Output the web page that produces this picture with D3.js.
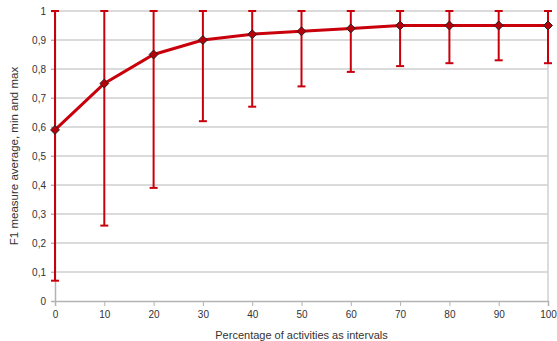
<!DOCTYPE html>
<html>
<head>
<meta charset="utf-8">
<script src="https://cdn.jsdelivr.net/npm/d3@7"></script>
<style>
  body { margin: 0; background: #fff; }
  text { font-family: "Liberation Sans", Arial, sans-serif; fill: #333; }
</style>
</head>
<body>
<div id="chart"></div>
<script>
// chart values
const percentages = [0, 10, 20, 30, 40, 50, 60, 70, 80, 90, 100];
const f1Average = [0.59, 0.75, 0.85, 0.90, 0.92, 0.93, 0.94, 0.95, 0.95, 0.95, 0.95];
const f1Min = [0.07, 0.26, 0.39, 0.62, 0.67, 0.74, 0.79, 0.81, 0.82, 0.83, 0.82];
const f1Max = [1, 1, 1, 1, 1, 1, 1, 1, 1, 1, 1];
const yTicks = [0, 0.1, 0.2, 0.3, 0.4, 0.5, 0.6, 0.7, 0.8, 0.9, 1];

const width = 557, height = 341;
const margin = { top: 11, right: 9, bottom: 40, left: 55 };
const w = width - margin.left - margin.right;
const h = height - margin.top - margin.bottom;

const svg = d3.select('#chart').append('svg')
  .attr('width', width)
  .attr('height', height);

const g = svg.append('g')
  .attr('transform', `translate(${margin.left},${margin.top})`);

const x = d3.scaleLinear().domain([0, 100]).range([0, w]);
const y = d3.scaleLinear().domain([0, 1]).range([h, 0]);

const fmt = v => d3.format('.1~f')(v).replace('.', ',');

// grid
g.append('g')
  .selectAll('line')
  .data(yTicks.filter(d => d > 0))
  .enter().append('line')
  .attr('x1', -4).attr('x2', w)
  .attr('y1', d => y(d)).attr('y2', d => y(d))
  .style('stroke', '#cfcfcf')
  .style('stroke-width', 1.5);

// right border
g.append('line')
  .attr('x1', w).attr('x2', w)
  .attr('y1', 0).attr('y2', h)
  .style('stroke', '#cfcfcf')
  .style('stroke-width', 1.5);

// y axis
const yAxis = g.append('g')
  .call(d3.axisLeft(y).tickValues(yTicks).tickFormat(fmt).tickSize(4).tickPadding(5));
yAxis.select('.domain').style('stroke', '#b3b3b3').style('stroke-width', 1.5);
yAxis.selectAll('.tick line').style('stroke', '#b3b3b3');
yAxis.selectAll('text').style('font-size', '10px').style('fill', '#333')
  .style('font-family', '"Liberation Sans", Arial, sans-serif');

// x axis
const xAxis = g.append('g')
  .attr('transform', `translate(0,${h})`)
  .call(d3.axisBottom(x).tickValues(percentages).tickSize(5).tickPadding(5));
xAxis.select('.domain').style('stroke', '#b3b3b3').style('stroke-width', 1.5);
xAxis.selectAll('.tick line').style('stroke', '#b3b3b3');
xAxis.selectAll('text').style('font-size', '10px').style('fill', '#333')
  .style('font-family', '"Liberation Sans", Arial, sans-serif');

// error bars
const data = percentages.map((p, i) => ({ p, avg: f1Average[i], min: f1Min[i], max: f1Max[i] }));
const red = '#c9000c';
const bars = g.append('g').selectAll('g').data(data).enter().append('g');
bars.append('line')
  .attr('x1', d => x(d.p)).attr('x2', d => x(d.p))
  .attr('y1', d => y(d.min)).attr('y2', d => y(d.max))
  .style('stroke', red).style('stroke-width', 2);
bars.append('line')
  .attr('x1', d => x(d.p) - 4).attr('x2', d => x(d.p) + 4)
  .attr('y1', d => y(d.min)).attr('y2', d => y(d.min))
  .style('stroke', red).style('stroke-width', 2);
bars.append('line')
  .attr('x1', d => x(d.p) - 4).attr('x2', d => x(d.p) + 4)
  .attr('y1', d => y(d.max)).attr('y2', d => y(d.max))
  .style('stroke', red).style('stroke-width', 2);

// average line
const line = d3.line().x(d => x(d.p)).y(d => y(d.avg));
g.append('path')
  .datum(data)
  .attr('d', line)
  .style('fill', 'none')
  .style('stroke', red)
  .style('stroke-width', 3);

// markers
g.append('g').selectAll('path').data(data).enter().append('path')
  .attr('d', d3.symbol().type(d3.symbolDiamond2).size(50))
  .attr('transform', d => `translate(${x(d.p)},${y(d.avg)})`)
  .style('fill', '#b8000a')
  .style('stroke', '#222')
  .style('stroke-width', 1);

// axis titles
svg.append('text')
  .attr('x', margin.left + w / 2)
  .attr('y', 339)
  .attr('text-anchor', 'middle')
  .style('font-size', '11px')
  .text('Percentage of activities as intervals');

svg.append('text')
  .attr('transform', `translate(18,${margin.top + h / 2}) rotate(-90)`)
  .attr('text-anchor', 'middle')
  .style('font-size', '11.5px')
  .text('F1 measure average, min and max');
</script>
</body>
</html>
